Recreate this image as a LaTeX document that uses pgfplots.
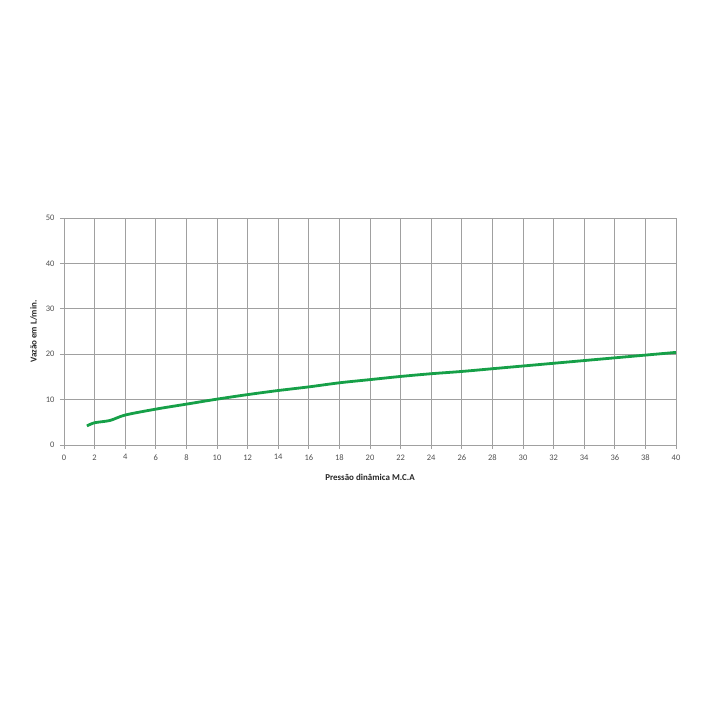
\documentclass[border=0pt]{standalone}
\usepackage{fontspec}
\setmainfont{Carlito}
\usepackage{pgfplots}
\pgfplotsset{compat=1.18}
\definecolor{curvegreen}{RGB}{22,160,72}
\definecolor{gridgray}{RGB}{160,160,160}
\definecolor{labelgray}{RGB}{80,80,80}
\begin{document}
\begin{tikzpicture}
\useasboundingbox[fill=white] (0,0) rectangle (704bp,704bp);
\begin{axis}[
    at={(64bp,259bp)}, anchor=south west,
    scale only axis,
    width=612bp, height=227bp,
    xmin=0, xmax=40, ymin=0, ymax=50,
    xtick distance=2, ytick distance=10,
    xtick pos=bottom, ytick pos=left,
    grid=major,
    major grid style={gridgray, line width=0.8bp},
    axis line style={gridgray, line width=0.9bp},
    tick style={gridgray, line width=0.8bp},
    tick align=outside, major tick length=4bp,
    ticklabel style={font=\fontsize{8.5}{10}\selectfont, text=labelgray},
    xticklabel style={yshift=-2bp},
    yticklabel style={xshift=-2bp},
    /pgf/number format/assume math mode=true,
    xlabel={\textbf{Pressão dinâmica M.C.A}},
    ylabel={\textbf{Vazão em L/min.}},
    label style={font=\fontsize{9}{10}\selectfont, text=black!85},
    xlabel style={yshift=-7bp},
    ylabel style={yshift=2bp},
]
\addplot[curvegreen, line width=2.8bp, smooth, tension=0.5] coordinates {
    (1.5,4.2) (2,4.9) (3,5.4) (4,6.6) (6,7.9) (8,9.0) (10,10.1)
    (12,11.1) (14,12.0) (16,12.8) (18,13.7) (20,14.4) (22,15.1)
    (24,15.7) (26,16.2) (28,16.8) (30,17.4) (32,18.0) (34,18.6)
    (36,19.2) (38,19.8) (40,20.4)
};
\end{axis}
\end{tikzpicture}
\end{document}
